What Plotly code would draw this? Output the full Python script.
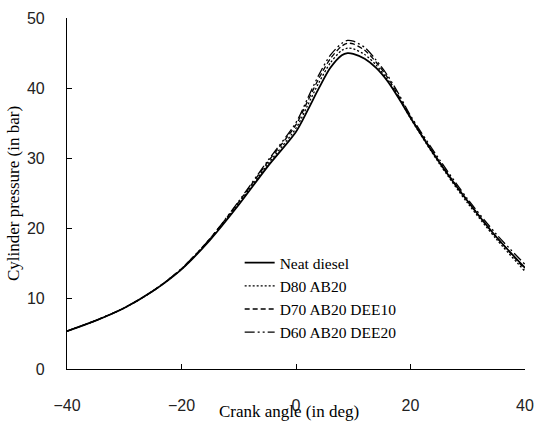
import plotly.graph_objects as go

crank = [-40, -35, -30, -25, -20, -15, -10, -5, 0, 2, 4, 6, 8, 9, 10, 12, 14, 16, 18, 20, 25, 30, 35, 40]
neat = [5.4, 6.9, 8.7, 11.1, 14.2, 18.4, 23.4, 28.8, 33.8, 36.8, 40.0, 42.9, 44.7, 45.0, 44.9, 44.2, 42.9, 41.0, 38.5, 35.8, 29.5, 23.9, 18.8, 14.4]
d80 = [5.4, 6.9, 8.7, 11.1, 14.2, 18.5, 23.6, 29.1, 34.3, 37.5, 40.8, 43.6, 45.4, 45.7, 45.6, 44.8, 43.3, 41.2, 38.6, 35.7, 29.3, 23.6, 18.5, 13.9]
d70 = [5.4, 6.9, 8.7, 11.1, 14.3, 18.6, 23.8, 29.4, 34.8, 38.1, 41.4, 44.2, 46.0, 46.4, 46.3, 45.4, 43.7, 41.5, 38.8, 35.9, 29.6, 23.9, 18.8, 14.2]
d60 = [5.4, 6.9, 8.7, 11.1, 14.3, 18.6, 23.9, 29.6, 35.1, 38.5, 41.9, 44.7, 46.4, 46.8, 46.7, 45.8, 44.0, 41.8, 39.1, 36.1, 29.9, 24.2, 19.2, 14.9]

names = ["Neat diesel", "D80 AB20", "D70 AB20 DEE10", "D60 AB20 DEE20"]
series = [neat, d80, d70, d60]
dashes = ["solid", "2px,2px", "5px,3px", "10px,3px,2px,3px,2px,3px"]
widths = [1.8, 1.3, 1.3, 1.3]

x_ticks = [-40, -20, 0, 20, 40]
y_ticks = [0, 10, 20, 30, 40, 50]

fig = go.Figure()
for nm, ys, ds, w in zip(names, series, dashes, widths):
    fig.add_trace(go.Scatter(x=crank, y=ys, mode="lines", name=nm,
                             line=dict(color="black", width=w, dash=ds, shape="spline", smoothing=0.8)))

serif = "Liberation Serif, Times New Roman, serif"
sans = "Liberation Sans, Arial, sans-serif"

fig.update_layout(
    width=544, height=427,
    margin=dict(l=67, r=10, t=18, b=58),
    paper_bgcolor="white", plot_bgcolor="white",
    showlegend=True,
    legend=dict(x=0.377, y=0.35, xanchor="left", yanchor="top",
                font=dict(family=serif, size=15.5, color="black"),
                bgcolor="rgba(0,0,0,0)", tracegroupgap=0, itemwidth=30),
    xaxis=dict(range=[-40, 40], tickvals=x_ticks, ticks="inside", ticklen=5, tickwidth=1,
               tickcolor="black", showline=True, linecolor="black", linewidth=1.2,
               showgrid=False, zeroline=False, ticklabelstandoff=22,
               tickfont=dict(family=sans, size=16, color="#222")),
    yaxis=dict(range=[0, 50], tickvals=y_ticks, ticks="inside", ticklen=5, tickwidth=1,
               tickcolor="black", showline=True, linecolor="black", linewidth=1.2,
               showgrid=False, zeroline=False, ticklabelstandoff=18,
               tickfont=dict(family=sans, size=16, color="#222"),
               title=dict(text="Cylinder pressure (in bar)", standoff=2,
                          font=dict(family=serif, size=17, color="black"))),
    annotations=[dict(text="Crank angle (in deg)", xref="paper", yref="paper",
                      x=0.485, y=0, yshift=-42, xanchor="center", yanchor="middle",
                      showarrow=False, font=dict(family=serif, size=17, color="black"))],
)

fig.write_html("out.html")
